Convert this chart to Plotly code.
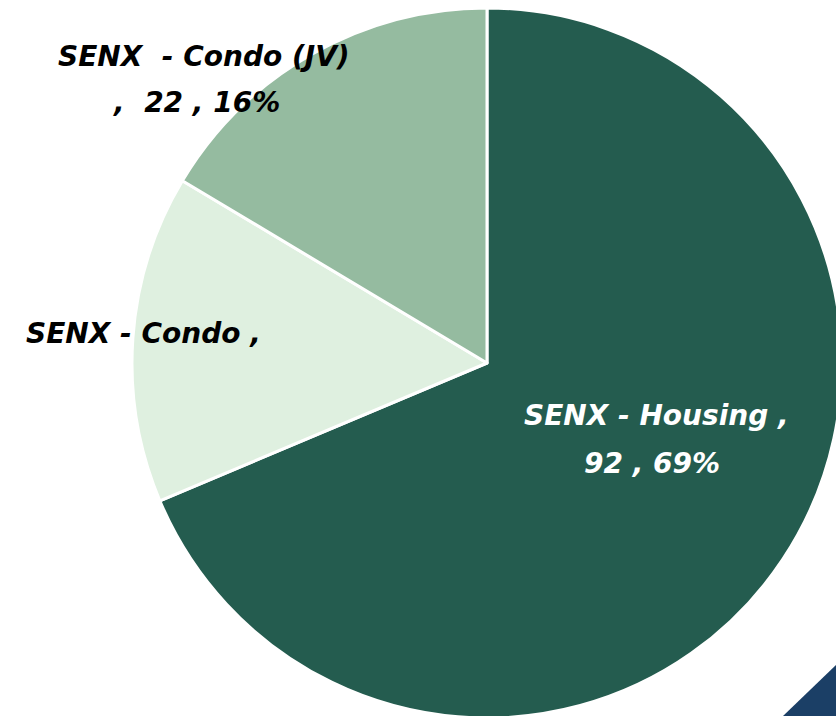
import plotly.graph_objects as go

labels = ["SENX - Housing", "SENX - Condo", "SENX  - Condo (JV)"]
values = [92, 20, 22]
colors = ["#245C4F", "#DFF0E0", "#95BBA0"]
pcts = [round(v * 100 / sum(values)) for v in values]

# figure slightly wider/taller than the 836x716 window so the pie is cropped at the right
W, H = 842, 720
fig = go.Figure()
fig.add_trace(go.Pie(
    labels=labels, values=values, sort=False, direction="clockwise", rotation=0,
    marker=dict(colors=colors, line=dict(color="white", width=3)),
    textinfo="none", hoverinfo="label+value+percent", showlegend=False,
    domain=dict(x=[132 / W, 1.0], y=[(H - 718) / H, (H - 8) / H]),
))

font = dict(family="DejaVu Sans", size=28, weight="bold", style="italic")

def ann(text, x, y, color):
    fig.add_annotation(text=text, x=x / W, y=1 - y / H, xref="paper", yref="paper",
                       xanchor="center", yanchor="middle", showarrow=False,
                       font=dict(color=color, **font))

# Housing (inside)
ann(f"{labels[0]} ,", 656, 416, "white")
ann(f"{values[0]} , {pcts[0]}%", 652, 463, "white")
# Condo (left, second line hidden in original)
ann(f"{labels[1]} ,", 143, 333, "black")
# Condo JV (top-left)
ann(f"{labels[2]}", 204, 57, "black")
ann(f",  {values[2]} , {pcts[2]}%", 196, 103, "black")

# decorative corner triangle (window corner is at 836,716)
fig.add_shape(type="path", xref="paper", yref="paper",
              path=f"M {783 / W} {1 - 716 / H} L {836 / W} {1 - 665 / H} L 1 {1 - 665 / H} L 1 0 L {783 / W} 0 Z",
              fillcolor="#1B3F66", line=dict(width=0))

fig.update_layout(width=W, height=H, margin=dict(l=0, r=0, t=0, b=0),
                  paper_bgcolor="white", plot_bgcolor="white")
fig.write_html("out.html", config=dict(displayModeBar=False),
               post_script="document.body.style.margin='0';document.body.style.overflow='hidden';")
